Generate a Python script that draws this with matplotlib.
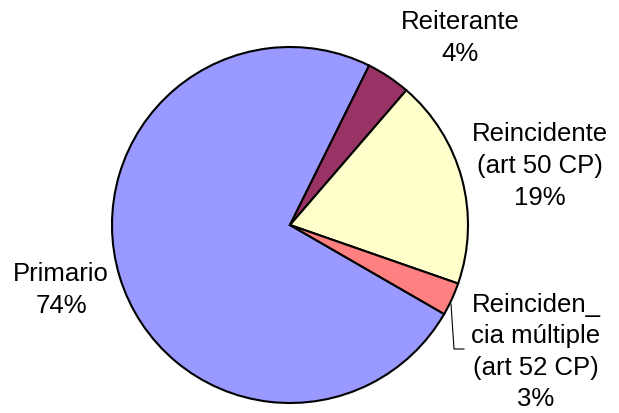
import matplotlib.pyplot as plt

plt.rcParams['font.family'] = ['Liberation Sans', 'DejaVu Sans']

# Data (percent of total)
categories = ['Primario', 'Reiterante', 'Reincidente\n(art 50 CP)',
              'Reinciden_\ncia múltiple\n(art 52 CP)']
values = [74, 4, 19, 3]
colors = ['#9999FF', '#993366', '#FFFFCC', '#FF8080']

# label block centres in pixel coords (x, y from top)
label_pos = [(61, 290), (460, 38), (540, 166), (536, 352)]

W, H = 619, 414
fig = plt.figure(figsize=(W / 100, H / 100), dpi=100)
ax = fig.add_axes([0, 0, 1, 1])

wedges, _ = ax.pie(values, colors=colors, startangle=-30, counterclock=False,
                   radius=178, center=(290, -226), frame=True,
                   wedgeprops=dict(edgecolor='black', linewidth=1.5))
ax.set_xlim(0, W)
ax.set_ylim(-H, 0)
ax.set_aspect('equal')
ax.axis('off')

for cat, val, (x, y) in zip(categories, values, label_pos):
    ax.text(x, -y, f'{cat}\n{val}%', ha='center', va='center',
            fontsize=18.5, linespacing=1.4)

# leader line for the small slice
ax.plot([451, 454, 464], [-305, -350, -350], color='black', linewidth=0.8)

fig.savefig('out.png', dpi=100)
